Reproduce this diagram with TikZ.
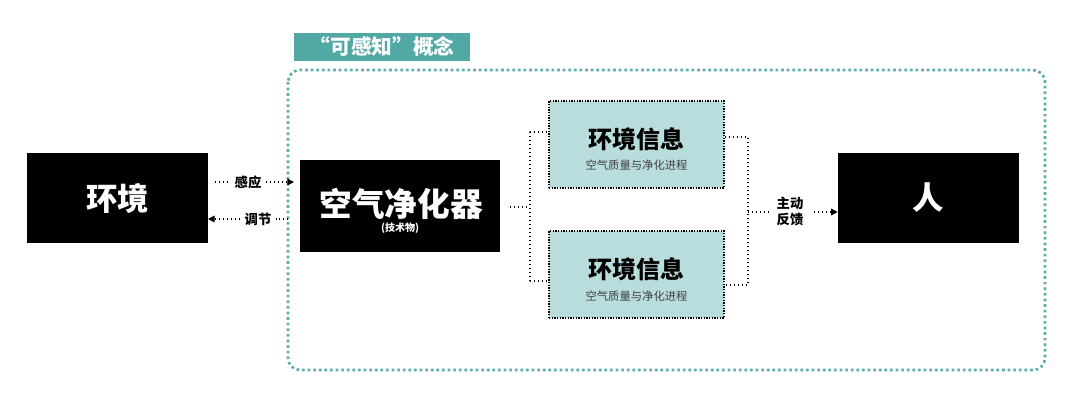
\documentclass[tikz,border=0pt]{standalone}
\usepackage{fontspec}
\setmainfont{Noto Sans CJK SC}
\usetikzlibrary{arrows.meta}

\definecolor{tealframe}{HTML}{5BAEAA}
\definecolor{tealtab}{HTML}{52A8A5}
\definecolor{infofill}{HTML}{B9DDDC}

\tikzset{
  blackbox/.style={fill=black, text=white, font=\bfseries, inner sep=0pt},
  infobox/.style={fill=infofill, draw=black, line width=1pt, densely dotted,
    minimum width=131.25pt, minimum height=65.25pt},
  dotline/.style={draw=black, line width=1pt, dotted},
  tip/.style={-{Triangle[length=5pt,width=5pt]}},
  lbl/.style={font=\bfseries\fontsize{10}{11}\selectfont, inner sep=1pt}
}

\begin{document}
\begin{tikzpicture}[x=0.75pt, y=-0.75pt]
    \useasboundingbox (0,0) rectangle (1080,404);

    % outer frame and title
    \draw[tealframe, line width=2pt, dash pattern=on 2pt off 2.2pt, rounded corners=9pt]
      (288,70) rectangle (1045,370);
    \node[fill=tealtab, text=white, font=\bfseries\fontsize{15.5}{16}\selectfont,
      minimum width=132pt, minimum height=21pt, inner sep=0pt] (title) at (382,47)
      {“可感知”概念};

    % black boxes
    \node[blackbox, minimum width=135.75pt, minimum height=67.5pt,
      font=\bfseries\fontsize{23.5}{24}\selectfont] (env) at (117.5,198) {环境};
    \node[blackbox, minimum width=150pt, minimum height=69pt] (purifier) at (400,206) {};
    \node[text=white, font=\bfseries\fontsize{24.5}{25}\selectfont, inner sep=0pt]
      (purname) at (401,204) {空气净化器};
    \node[text=white, font=\bfseries\fontsize{7.5}{8}\selectfont, inner sep=0pt]
      (purnote) at (400,228) {(技术物)};
    \node[blackbox, minimum width=135.75pt, minimum height=67.5pt,
      font=\bfseries\fontsize{23.5}{24}\selectfont] (person) at (928.5,198) {人};

    % info boxes
    \node[infobox] (info1) at (636.5,144.5) {};
    \node[font=\bfseries\fontsize{18}{19}\selectfont, inner sep=0pt] at (636.5,139) {环境信息};
    \node[font=\fontsize{8.5}{9}\selectfont, text=black!75, inner sep=0pt] at (636.5,165) {空气质量与净化进程};
    \node[infobox] (info2) at (636.5,274.5) {};
    \node[font=\bfseries\fontsize{18}{19}\selectfont, inner sep=0pt] at (636.5,269) {环境信息};
    \node[font=\fontsize{8.5}{9}\selectfont, text=black!75, inner sep=0pt] at (636.5,296) {空气质量与净化进程};

    % sensing / regulating
    \node[lbl] (sense) at (248,182) {感应};
    \node[lbl] (adjust) at (258,219) {调节};
    \coordinate (s0) at (215,182);
    \coordinate (s1) at (294,182);
    \coordinate (a0) at (288,219);
    \coordinate (a1) at (208,219);
    \draw[dotline] (s0) -- ([xshift=-2pt]sense.west);
    \draw[dotline, tip] ([xshift=2pt]sense.east) -- (s1);
    \draw[dotline] (a0) -- ([xshift=2pt]adjust.east);
    \draw[dotline, tip] ([xshift=-2pt]adjust.west) -- (a1);

    % branching from purifier
    \coordinate (l0) at (510,207);
    \coordinate (lm) at (530,207);
    \coordinate (lt) at (530,132);
    \coordinate (lb) at (530,281);
    \draw[dotline] (l0) -- (lm);
    \draw[dotline] (lt) -- (lb);
    \draw[dotline] (lt) -- (info1.west |- lt);
    \draw[dotline] (lb) -- (info2.west |- lb);

    % joining to person
    \coordinate (rt) at (748,137);
    \coordinate (rb) at (748,285);
    \coordinate (rm) at (748,212);
    \coordinate (rm1) at (770,212);
    \draw[dotline] (info1.east |- rt) -- (rt) -- (rb) -- (info2.east |- rb);
    \draw[dotline] (rm) -- (rm1);
    \node[lbl, align=center, font=\bfseries\fontsize{10}{12}\selectfont] (feedback) at (790,211)
      {主动\\反馈};
    \coordinate (f0) at (814,212);
    \draw[dotline, tip] (f0) -- (person.west |- f0);
  \end{tikzpicture}
\end{document}
